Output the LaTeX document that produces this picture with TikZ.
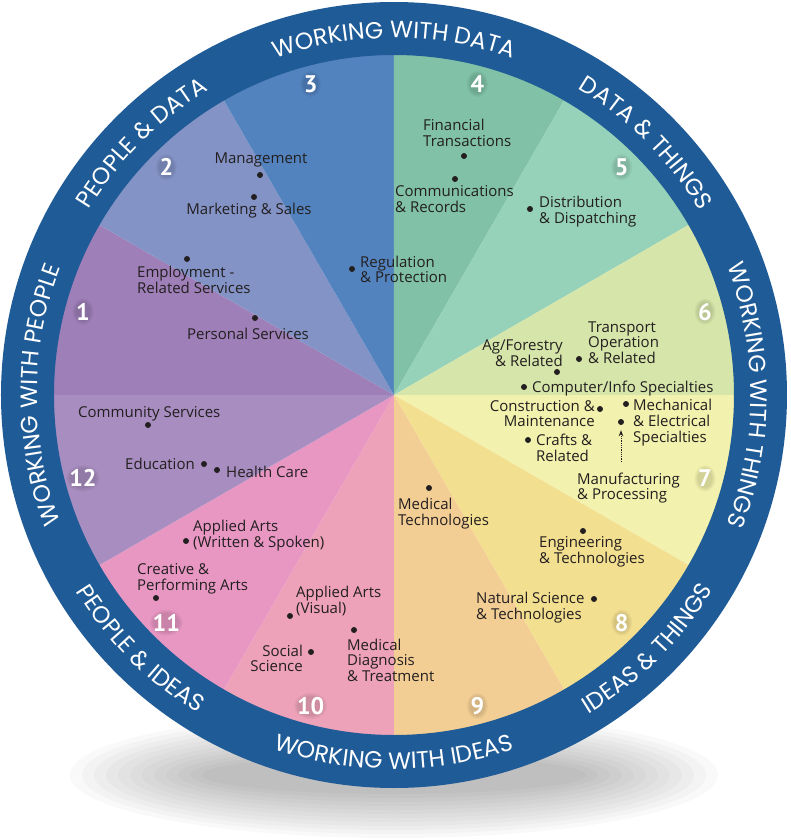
\documentclass[tikz,border=0pt]{standalone}
\usepackage{fontspec}
\setmainfont{Open Sans}
\newfontfamily\ringfont{Poppins}
\newfontfamily\numfont{PT Sans}
\usetikzlibrary{decorations.text,arrows.meta}

\definecolor{ringblue}{HTML}{1F5B96}
\definecolor{ink}{HTML}{231F20}
\definecolor{sec1}{HTML}{9E7FB8}
\definecolor{sec2}{HTML}{8393C6}
\definecolor{sec3}{HTML}{5383BF}
\definecolor{sec4}{HTML}{80C1A7}
\definecolor{sec5}{HTML}{96D1B9}
\definecolor{sec6}{HTML}{D6E5A9}
\definecolor{sec7}{HTML}{F2F1AD}
\definecolor{sec8}{HTML}{F3DF90}
\definecolor{sec9}{HTML}{F3CE94}
\definecolor{sec10}{HTML}{EDA2B9}
\definecolor{sec11}{HTML}{E897C3}
\definecolor{sec12}{HTML}{A88DC0}

% stacked label lines, baseline on the first line
\newcommand{\lefttext}[1]{\begin{tabular}[t]{@{}l@{}}#1\end{tabular}}
\newcommand{\righttext}[1]{\begin{tabular}[t]{@{}r@{}}#1\end{tabular}}

\begin{document}
\begin{tikzpicture}[x=1pt,y=1pt,
  lbl/.style={inner sep=0pt, text=ink, font=\fontsize{15}{15.5}\selectfont},
  dotmark/.style={circle, fill=ink, inner sep=0pt, minimum size=6pt},
  num/.style={text=white, inner sep=0pt, font=\numfont\bfseries\fontsize{24}{24}\selectfont},
  ringtext/.style={decorate, decoration={text along path, text align=center,
    text color=white, text={|\ringfont\fontsize{23.5}{23.5}\selectfont|#1}}}
]
\useasboundingbox (-394,-444) rectangle (397,395);

% soft shadow under the wheel
\foreach \k in {1,...,12}
  \fill[black, opacity=0.022] (0,-380) ellipse ({180+12*\k} and {15+4*\k});

% twelve career sectors
\foreach \a/\c in {150/sec1, 120/sec2, 90/sec3, 60/sec4, 30/sec5, 0/sec6,
                   -30/sec7, -60/sec8, -90/sec9, -120/sec10, -150/sec11, 180/sec12}
  \fill[\c] (0,0) -- (\a:341) arc[start angle=\a, end angle=\a+30, radius=341] -- cycle;

% outer ring
\fill[ringblue, even odd rule] (0,0) circle[radius=393] (0,0) circle[radius=340];

% ring captions, upper half read clockwise, lower half counter-clockwise
\path[ringtext={WORKING WITH DATA}] (140:357) arc[start angle=140, end angle=40, radius=357];
\path[ringtext={DATA {\&} THINGS}] (95:357) arc[start angle=95, end angle=-5, radius=357];
\path[ringtext={WORKING WITH THINGS}] (50:357) arc[start angle=50, end angle=-50, radius=357];
\path[ringtext={PEOPLE {\&} DATA}] (185:357) arc[start angle=185, end angle=85, radius=357];
\path[ringtext={WORKING WITH PEOPLE}] (230:357) arc[start angle=230, end angle=130, radius=357];
\path[ringtext={IDEAS {\&} THINGS}] (-95:374) arc[start angle=-95, end angle=5, radius=374];
\path[ringtext={WORKING WITH IDEAS}] (-140:374) arc[start angle=-140, end angle=-40, radius=374];
\path[ringtext={PEOPLE {\&} IDEAS}] (-185:374) arc[start angle=-185, end angle=-85, radius=374];

% sector numbers, each on a faint dark glow
\foreach \n in {1,...,12}{
  \pgfmathsetmacro\hw{\n<10 ? 6 : 12}
  \foreach \g in {1,2,3}
    \fill[black, opacity=0.045] ({165-30*(\n-1)}:322) ellipse ({\hw+1.5*\g} and {8.5+1.5*\g});
  \node[num] (num\n) at ({165-30*(\n-1)}:322) {\n};
}

% occupational clusters
\node[lbl, anchor=base] (management) at (-133,231) {Management};
\node[dotmark] (d-management) at (-134,220) {};
\node[lbl, anchor=base] (marketing) at (-145,181) {Marketing \& Sales};
\node[dotmark] (d-marketing) at (-140,198) {};
\node[lbl, anchor=base west] (employment) at (-257,118) {\lefttext{Employment -\\Related Services}};
\node[dotmark] (d-employment) at (-207,136) {};
\node[lbl, anchor=base] (personal) at (-146,56) {Personal Services};
\node[dotmark] (d-personal) at (-139,77) {};
\node[lbl, anchor=base west] (regulation) at (-34,128) {\lefttext{Regulation\\\& Protection}};
\node[dotmark] (d-regulation) at (-42,126) {};

\node[lbl, anchor=base west] (financial) at (29,264) {\lefttext{Financial\\Transactions}};
\node[dotmark] (d-financial) at (70,239) {};
\node[lbl, anchor=base west] (communications) at (1,199) {\lefttext{Communications\\\& Records}};
\node[dotmark] (d-communications) at (61,216) {};
\node[lbl, anchor=base west] (distribution) at (145,188) {\lefttext{Distribution\\\& Dispatching}};
\node[dotmark] (d-distribution) at (136,186) {};

\node[lbl, anchor=base west] (transport) at (194,63) {\lefttext{Transport\\Operation\\\& Related}};
\node[dotmark] (d-transport) at (185,36) {};
\node[lbl, anchor=base east] (agforestry) at (169,45) {\righttext{Ag/Forestry\\\& Related}};
\node[dotmark] (d-agforestry) at (163,23) {};
\node[lbl, anchor=base west] (computer) at (138,3) {Computer/Info Specialties};
\node[dotmark] (d-computer) at (130,8) {};

\node[lbl, anchor=base east] (construction) at (201,-16) {\righttext{Construction \&\\Maintenance}};
\node[dotmark] (d-construction) at (206,-14) {};
\node[lbl, anchor=base west] (crafts) at (142,-50) {\lefttext{Crafts \&\\Related}};
\node[dotmark] (d-crafts) at (134,-45) {};
\node[lbl, anchor=base west] (mechanical) at (239,-15) {\lefttext{Mechanical\\\& Electrical\\Specialties}};
\node[dotmark] (d-mechanical) at (232,-9) {};
\node[lbl, anchor=base west] (manufacturing) at (183,-89) {\lefttext{Manufacturing\\\& Processing}};
\node[dotmark] (d-manufacturing) at (227,-27) {};
\coordinate (manufacturing-top) at (227,-67);
\draw[ink, densely dotted, line width=0.8pt, shorten >=5pt,
      -{Stealth[length=6pt,width=4.5pt]}] (manufacturing-top) -- (d-manufacturing);

\node[lbl, anchor=base west] (medtech) at (4,-114) {\lefttext{Medical\\Technologies}};
\node[dotmark] (d-medtech) at (35,-93) {};
\node[lbl, anchor=base west] (engineering) at (145,-152) {\lefttext{Engineering\\\& Technologies}};
\node[dotmark] (d-engineering) at (189,-136) {};
\node[lbl, anchor=base west] (natsci) at (82,-208) {\lefttext{Natural Science\\\& Technologies}};
\node[dotmark] (d-natsci) at (200,-204) {};

\node[lbl, anchor=base west] (community) at (-316,-22) {Community Services};
\node[dotmark] (d-community) at (-246,-30) {};
\node[lbl, anchor=base east] (education) at (-199,-74) {Education};
\node[dotmark] (d-education) at (-190,-69) {};
\node[lbl, anchor=base west] (health) at (-168,-82) {Health Care};
\node[dotmark] (d-health) at (-177,-75) {};

\node[lbl, anchor=base west] (written) at (-201,-136) {\lefttext{Applied Arts\\(Written \& Spoken)}};
\node[dotmark] (d-written) at (-208,-146) {};
\node[lbl, anchor=base west] (creative) at (-257,-179) {\lefttext{Creative \&\\Performing Arts}};
\node[dotmark] (d-creative) at (-238,-203) {};
\node[lbl, anchor=base west] (visual) at (-98,-202) {\lefttext{Applied Arts\\(Visual)}};
\node[dotmark] (d-visual) at (-104,-221) {};
\node[lbl, anchor=base east] (social) at (-91,-261) {\righttext{Social\\Science}};
\node[dotmark] (d-social) at (-83,-257) {};
\node[lbl, anchor=base west] (diagnosis) at (-47,-255) {\lefttext{Medical\\Diagnosis\\\& Treatment}};
\node[dotmark] (d-diagnosis) at (-40,-235) {};
\end{tikzpicture}
\end{document}
